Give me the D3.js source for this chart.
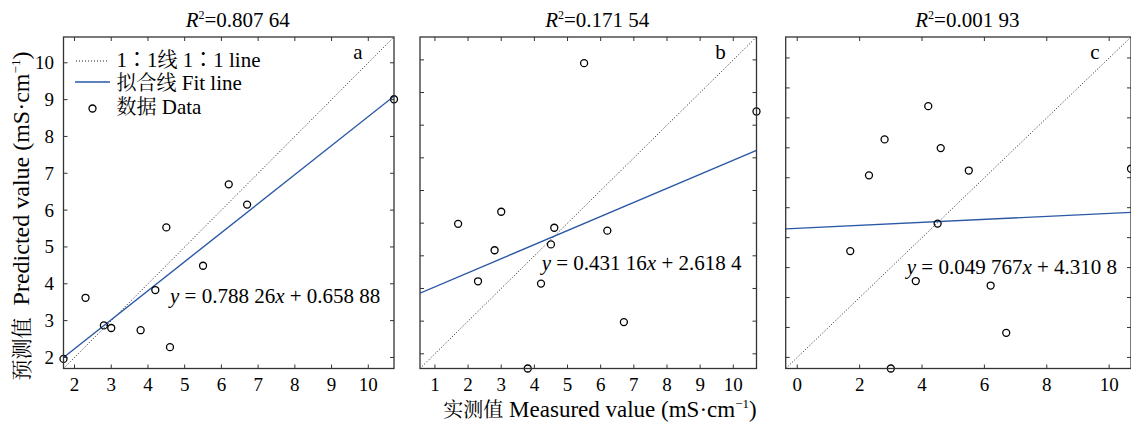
<!DOCTYPE html>
<html>
<head>
<meta charset="utf-8">
<script src="https://cdn.jsdelivr.net/npm/d3@7"></script>
<style>
  body { margin: 0; background: #fff; }
  svg { display: block; }
</style>
</head>
<body>
<svg id="chart" width="1131" height="425"></svg>
<script>
// measured values (shared by the three panels)
const measured = [1.7, 2.3, 2.8, 3.0, 3.8, 4.2, 4.5, 4.6, 5.5, 6.2, 6.7, 10.7];
// predicted values per panel
const predA = [1.96, 3.62, 2.87, 2.80, 2.74, 3.83, 5.53, 2.28, 4.49, 6.70, 6.15, 9.01];
const predB = [4.98, 3.22, 4.17, 5.35, 0.55, 3.15, 4.35, 4.86, 9.90, 4.77, 1.97, 8.42];
const predC = [3.55, 6.08, 7.28, -0.37, 2.55, 8.39, 4.47, 6.99, 6.24, 2.40, 0.82, 6.30];
// fit coefficients and their printed text
const slopes = [0.78826, 0.43116, 0.049767];
const intercepts = [0.65888, 2.6184, 4.3108];
const slopeText = ["0.788 26", "0.431 16", "0.049 767"];
const interceptText = ["0.658 88", "2.618 4", "4.310 8"];
const r2Text = ["0.807 64", "0.171 54", "0.001 93"];
const panelLetters = ["a", "b", "c"];
const xTickSteps = [1, 1, 2];

const latin = '"Liberation Serif"';
const cjk = '"Noto Serif CJK SC"';
const colonFont = '"Noto Sans CJK JP"';
const fs = 21;     // labels
const tfs = 19;    // tick labels

const svg = d3.select("#chart");
const blue = "#2a58a6";
const axisColor = "#333";

// pixel boxes of the panels
const boxes = [
  {left: 63.5, right: 394, top: 37, bottom: 368.5},
  {left: 420, right: 756.5, top: 37, bottom: 368.5},
  {left: 785.7, right: 1131, top: 37, bottom: 368.5}
];
// where the equation starts, in data units
const eqPos = [[4.6, 3.48], [4.22, 3.57], [3.51, 2.78]];

const preds = [predA, predB, predC];

function txt(sel) {
  return sel.append("text").style("font-family", latin);
}

preds.forEach((pred, i) => {
  const b = boxes[i];
  const ext = d3.extent(measured.concat(pred));
  const x = d3.scaleLinear().domain(ext).range([b.left, b.right]);
  const y = d3.scaleLinear().domain(ext).range([b.bottom, b.top]);

  const g = svg.append("g");

  const xt = d3.range(Math.ceil(ext[0] / xTickSteps[i]) * xTickSteps[i], ext[1] + 0.001, xTickSteps[i]);
  const yt = d3.range(Math.ceil(ext[0]), ext[1] + 0.001, 1);

  // clip for marks
  const clipId = "clip" + i;
  svg.append("clipPath").attr("id", clipId)
    .append("rect").attr("x", b.left).attr("y", b.top)
    .attr("width", b.right - b.left).attr("height", b.bottom - b.top);

  const marks = g.append("g").attr("clip-path", `url(#${clipId})`);

  // 1:1 line
  marks.append("line")
    .attr("x1", x(ext[0])).attr("y1", y(ext[0]))
    .attr("x2", x(ext[1])).attr("y2", y(ext[1]))
    .attr("stroke", "#000").attr("stroke-width", 0.9)
    .attr("stroke-dasharray", "1,2");

  // fit line
  marks.append("line")
    .attr("x1", x(ext[0])).attr("y1", y(slopes[i] * ext[0] + intercepts[i]))
    .attr("x2", x(ext[1])).attr("y2", y(slopes[i] * ext[1] + intercepts[i]))
    .attr("stroke", blue).attr("stroke-width", 1.4);

  // points
  g.selectAll("circle.pt")
    .data(measured.map((m, k) => [m, pred[k]]))
    .enter().append("circle")
    .attr("class", "pt")
    .attr("cx", d => x(d[0])).attr("cy", d => y(d[1]))
    .attr("r", 3.5)
    .attr("fill", "none").attr("stroke", "#000").attr("stroke-width", 1.3);

  // frame
  g.append("rect")
    .attr("x", b.left).attr("y", b.top)
    .attr("width", b.right - b.left).attr("height", b.bottom - b.top)
    .attr("fill", "none").attr("stroke", axisColor).attr("stroke-width", 1.3);

  // inward ticks on all sides
  const tl = 4;
  g.selectAll("line.xt").data(xt).enter().append("line")
    .attr("x1", d => x(d)).attr("x2", d => x(d))
    .attr("y1", b.bottom).attr("y2", b.bottom - tl)
    .attr("stroke", axisColor);
  g.selectAll("line.xtt").data(xt).enter().append("line")
    .attr("x1", d => x(d)).attr("x2", d => x(d))
    .attr("y1", b.top).attr("y2", b.top + tl)
    .attr("stroke", axisColor);
  g.selectAll("line.yt").data(yt).enter().append("line")
    .attr("y1", d => y(d)).attr("y2", d => y(d))
    .attr("x1", b.left).attr("x2", b.left + tl)
    .attr("stroke", axisColor);
  g.selectAll("line.ytr").data(yt).enter().append("line")
    .attr("y1", d => y(d)).attr("y2", d => y(d))
    .attr("x1", b.right).attr("x2", b.right - tl)
    .attr("stroke", axisColor);

  // tick labels
  g.selectAll("text.xl").data(xt).enter().append("text")
    .style("font-family", latin)
    .attr("x", d => x(d)).attr("y", 391)
    .attr("text-anchor", "middle").attr("font-size", tfs)
    .text(d => d);
  if (i === 0) {
    g.selectAll("text.yl").data(yt).enter().append("text")
      .style("font-family", latin)
      .attr("x", 54).attr("y", d => y(d) + 6.5)
      .attr("text-anchor", "end").attr("font-size", tfs)
      .text(d => d);
  }

  // title
  const title = txt(g)
    .attr("x", (b.left + b.right) / 2 + 9).attr("y", 27)
    .attr("text-anchor", "middle").attr("font-size", fs);
  title.append("tspan").attr("font-style", "italic").text("R");
  title.append("tspan").attr("font-size", 12).attr("dy", -8).text("2");
  title.append("tspan").attr("dy", 8).text("=" + r2Text[i]);

  // panel letter
  txt(g)
    .attr("x", b.right - 36).attr("y", 59)
    .attr("text-anchor", "middle").attr("font-size", fs)
    .text(panelLetters[i]);

  // equation
  const eq = txt(g)
    .attr("x", x(eqPos[i][0])).attr("y", y(eqPos[i][1]))
    .attr("font-size", fs).attr("xml:space", "preserve");
  eq.append("tspan").attr("font-style", "italic").text("y");
  eq.append("tspan").text(" = " + slopeText[i]);
  eq.append("tspan").attr("font-style", "italic").text("x");
  eq.append("tspan").text(" + " + interceptText[i]);
});

// mixed CJK / Latin label
function mixed(t, parts) {
  parts.forEach(p => {
    const s = t.append("tspan").style("font-family", p.font || latin).text(p.t);
    if (p.dy) s.attr("dy", p.dy);
    if (p.size) s.attr("font-size", p.size);
  });
  return t;
}

// legend in panel a
const lg = svg.append("g").attr("font-size", fs);
lg.append("line").attr("x1", 76).attr("x2", 107).attr("y1", 61).attr("y2", 61)
  .attr("stroke", "#000").attr("stroke-width", 0.9).attr("stroke-dasharray", "1,2");
mixed(txt(lg).attr("x", 116.5).attr("y", 66.5).attr("xml:space", "preserve"),
  [{t: "1"}, {t: "：", font: colonFont, size: 20}, {t: "1"}, {t: "线", font: cjk, size: 20},
   {t: " 1"}, {t: "：", font: colonFont, size: 20}, {t: "1 line"}]);
lg.append("line").attr("x1", 75).attr("x2", 110).attr("y1", 82).attr("y2", 82)
  .attr("stroke", blue).attr("stroke-width", 1.4);
mixed(txt(lg).attr("x", 116.5).attr("y", 90).attr("xml:space", "preserve"),
  [{t: "拟合线", font: cjk, size: 20}, {t: " Fit line"}]);
lg.append("circle").attr("cx", 92.5).attr("cy", 108.5).attr("r", 3.5)
  .attr("fill", "none").attr("stroke", "#000").attr("stroke-width", 1.3);
mixed(txt(lg).attr("x", 116.5).attr("y", 114).attr("xml:space", "preserve"),
  [{t: "数据", font: cjk, size: 20}, {t: " Data"}]);

// axis titles
mixed(txt(svg).attr("x", 600).attr("y", 417).attr("text-anchor", "middle")
  .attr("font-size", 23).attr("xml:space", "preserve"),
  [{t: "实测值", font: cjk, size: 20}, {t: " Measured value (mS·cm"}, {t: "−1", dy: -9, size: 13}, {t: ")", dy: 9}]);

mixed(txt(svg).attr("transform", "translate(29,216) rotate(-90)").attr("text-anchor", "middle")
  .attr("font-size", 24).attr("xml:space", "preserve"),
  [{t: "预测值", font: cjk, size: 21}, {t: "  Predicted value (mS·cm"}, {t: "−1", dy: -9, size: 13}, {t: ")", dy: 9}]);
</script>
</body>
</html>
